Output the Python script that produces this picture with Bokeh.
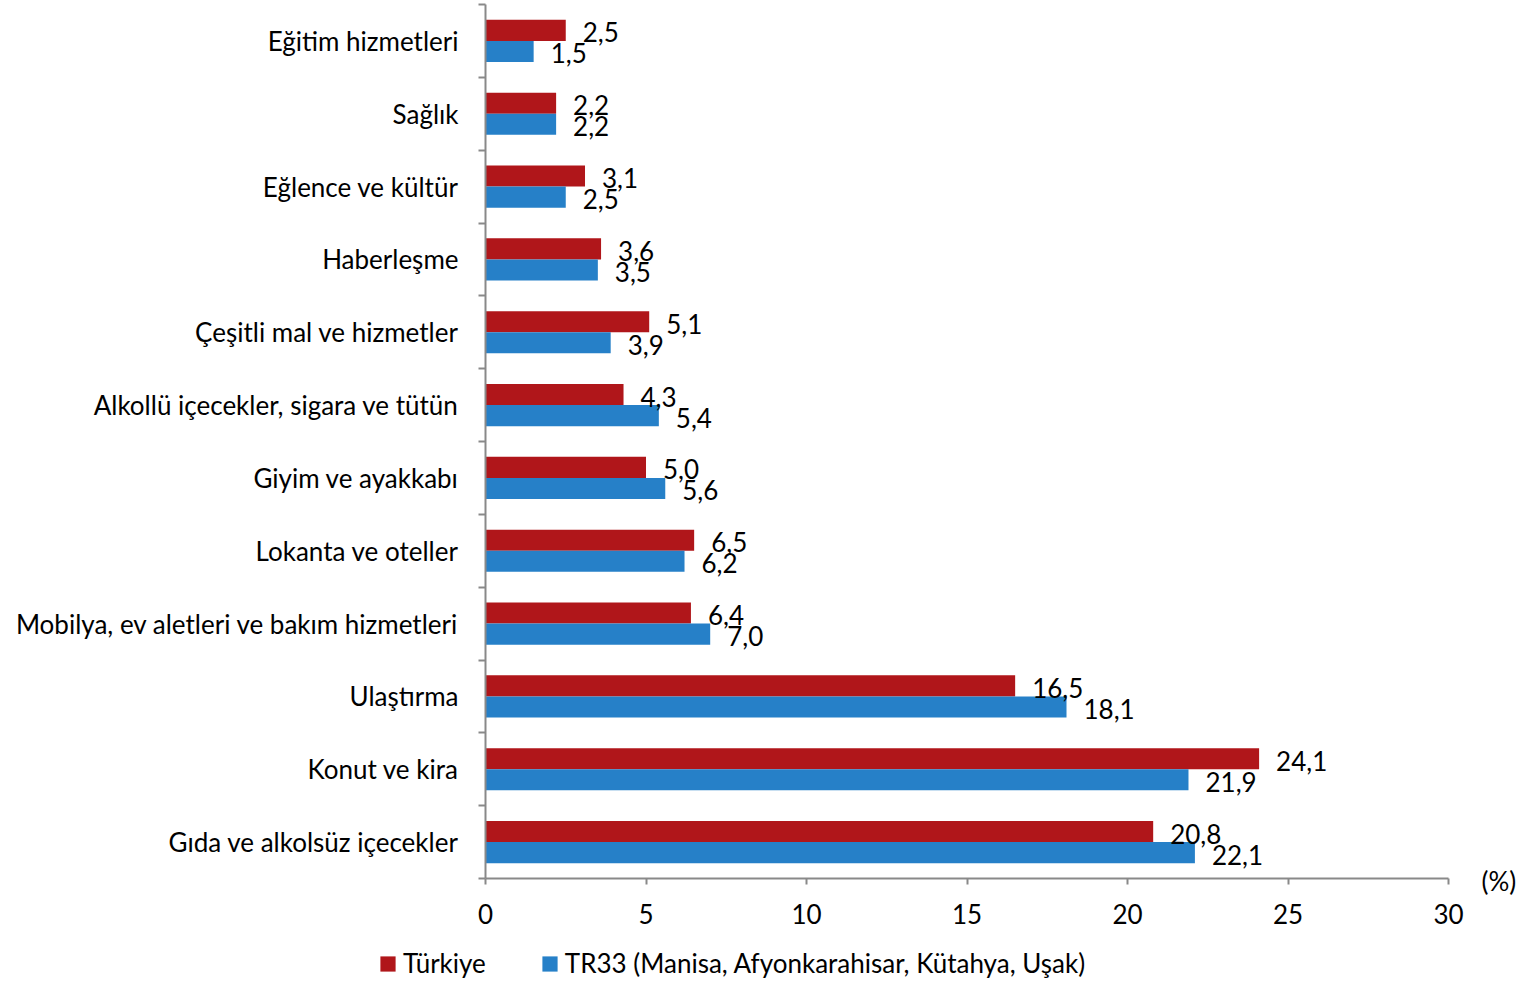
from bokeh.plotting import figure
from bokeh.models import (Range1d, FixedTicker, ColumnDataSource, Legend, LegendItem, Label)
from bokeh.core.properties import value
from bokeh.embed import file_html
from bokeh.resources import INLINE

categories = ["Eğitim hizmetleri", "Sağlık", "Eğlence ve kültür", "Haberleşme",
              "Çeşitli mal ve hizmetler", "Alkollü içecekler, sigara ve tütün",
              "Giyim ve ayakkabı", "Lokanta ve oteller",
              "Mobilya, ev aletleri ve bakım hizmetleri", "Ulaştırma",
              "Konut ve kira", "Gıda ve alkolsüz içecekler"]
turkiye = [2.5, 2.2, 3.1, 3.6, 5.1, 4.3, 5.0, 6.5, 6.4, 16.5, 24.1, 20.8]
tr33 = [1.5, 2.2, 2.5, 3.5, 3.9, 5.4, 5.6, 6.2, 7.0, 18.1, 21.9, 22.1]
x_ticks = [0, 5, 10, 15, 20, 25, 30]
series_names = ["Türkiye", "TR33 (Manisa, Afyonkarahisar, Kütahya, Uşak)"]
unit_label = "(%)"

RED = "#B0161A"
BLUE = "#2680C8"
FONT = "Lato"
FS = "26px"
AXIS = "#898989"

W, H = 1530, 980
X0_PX, X30_PX = 485, 1448      # pixel positions of x = 0 and x = 30
YTOP_PX, YBOT_PX = 4, 878      # pixel positions of the category band edges
n = len(categories)
x_max = x_ticks[-1]
kx = (X30_PX - X0_PX) / x_max
ky = (YBOT_PX - YTOP_PX) / n
x_range = Range1d(-X0_PX / kx, x_max + (W - X30_PX) / kx)
y_range = Range1d(-(H - YBOT_PX) / ky, n + YTOP_PX / ky)

centers = [n - 0.5 - i for i in range(n)]
bh = 0.29
y_red = [c + bh / 2 for c in centers]
y_blue = [c - bh / 2 for c in centers]

src_r = ColumnDataSource(dict(y=y_red, v=turkiye, lab=[f"{v:.1f}".replace(".", ",") for v in turkiye]))
src_b = ColumnDataSource(dict(y=y_blue, v=tr33, lab=[f"{v:.1f}".replace(".", ",") for v in tr33]))

p = figure(width=W, height=H, output_backend="svg", toolbar_location=None,
           x_range=x_range, y_range=y_range,
           min_border_left=0, min_border_right=0, min_border_top=0, min_border_bottom=0)
p.outline_line_color = None
p.grid.visible = False
p.background_fill_color = "white"
p.border_fill_color = "white"

r_red = p.hbar(y="y", right="v", left=0, height=bh, source=src_r, fill_color=RED, line_color=None)
r_blue = p.hbar(y="y", right="v", left=0, height=bh, source=src_b, fill_color=BLUE, line_color=None)

for src in (src_r, src_b):
    p.text(x="v", y="y", text="lab", source=src, x_offset=17, y_offset=2,
           text_align="left", text_baseline="middle",
           text_font=value(FONT), text_font_size=FS, text_color="black")

# x axis, pinned at the bottom edge of the categories
xa = p.xaxis[0]
xa.fixed_location = 0
xa.bounds = (0, x_max)
xa.ticker = FixedTicker(ticks=x_ticks)
xa.axis_line_color = AXIS
xa.axis_line_width = 2
xa.major_tick_line_color = AXIS
xa.major_tick_line_width = 2
xa.major_tick_out = 6
xa.major_tick_in = 0
xa.minor_tick_line_color = None
xa.major_label_standoff = 19
xa.major_label_text_font = FONT
xa.major_label_text_font_size = FS
xa.major_label_text_color = "black"

# y axis, pinned at x = 0
ya = p.yaxis[0]
ya.fixed_location = 0
ya.bounds = (0, n)
ya.ticker = FixedTicker(ticks=centers, minor_ticks=list(range(n + 1)))
ya.major_label_overrides = {c: categories[i] for i, c in enumerate(centers)}
ya.axis_line_color = AXIS
ya.axis_line_width = 2
ya.major_tick_line_color = None
ya.major_tick_out = 0
ya.major_tick_in = 0
ya.minor_tick_line_color = AXIS
ya.minor_tick_line_width = 2
ya.minor_tick_out = 7
ya.minor_tick_in = 0
ya.major_label_standoff = 20
ya.major_label_text_font = FONT
ya.major_label_text_font_size = FS
ya.major_label_text_color = "black"

legend = Legend(items=[LegendItem(label=series_names[0], renderers=[r_red]),
                       LegendItem(label=series_names[1], renderers=[r_blue])],
                orientation="horizontal", location=(378, 1),
                glyph_width=19, glyph_height=19, label_standoff=6, spacing=54,
                padding=0, margin=0, border_line_color=None, background_fill_alpha=0,
                label_text_font=FONT, label_text_font_size=FS, label_text_color="black")
p.add_layout(legend, "center")

unit = Label(x=x_max + (1481 - X30_PX) / kx, y=-2 / ky, text=unit_label,
             text_font=FONT, text_font_size=FS, text_color="black",
             text_align="left", text_baseline="middle")
p.add_layout(unit)

open("out.html", "w").write(file_html(p, INLINE))
